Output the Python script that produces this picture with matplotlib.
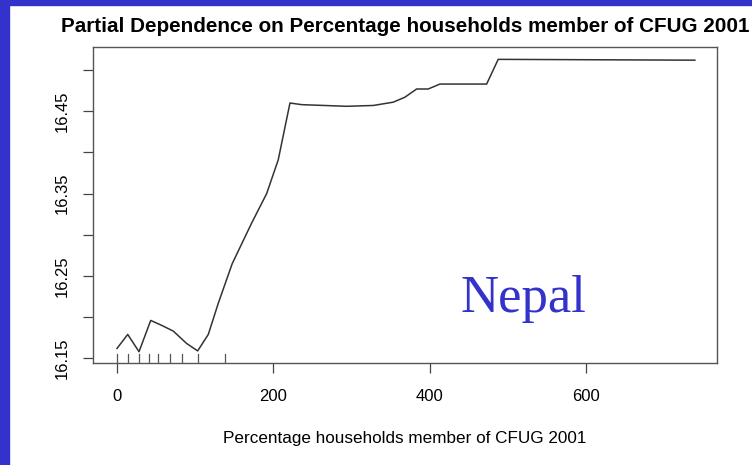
import numpy as np
import matplotlib.pyplot as plt
from matplotlib.patches import Rectangle

# partial dependence curve (x = % households in CFUG 2001, y = fitted value)
pct_households = [0, 13.7, 28.1, 43.1, 57.1, 72, 89, 103.1, 116.7, 129.5,
                  147.3, 172, 191.3, 206.1, 221.1, 236, 293.5, 327.5, 353.1,
                  368, 383, 397.8, 412.8, 472.5, 487.3, 738.7]
partial_dep = [16.162, 16.179, 16.158, 16.196, 16.190, 16.183, 16.168, 16.159,
               16.179, 16.217, 16.265, 16.314, 16.350, 16.391, 16.460, 16.458,
               16.456, 16.457, 16.461, 16.467, 16.477, 16.477, 16.483, 16.483,
               16.513, 16.512]
# deciles of the predictor, shown as a rug
rug_deciles = [0, 14, 27.5, 40.3, 53, 67.8, 83.5, 103.5, 138.5]

x_ticks = [0, 200, 400, 600]
y_ticks = [16.15, 16.20, 16.25, 16.30, 16.35, 16.40, 16.45, 16.50]
y_labels = ["16.15", "", "16.25", "", "16.35", "", "16.45", ""]

plt.rcParams["font.family"] = ["Liberation Sans", "DejaVu Sans"]
fig = plt.figure(figsize=(7.52, 4.65), dpi=100)

# blue slide frame
blue = "#3333cc"
fig.patches.append(Rectangle((0, 0), 9 / 752, 1, transform=fig.transFigure,
                             color=blue, zorder=-1))
fig.patches.append(Rectangle((0, 1 - 5 / 465), 1, 5 / 465,
                             transform=fig.transFigure, color=blue, zorder=-1))

ax = fig.add_axes([93 / 752, 1 - 363 / 465, 624 / 752, 316 / 465])
ax.plot(pct_households, partial_dep, color="#333333", lw=1.1)
for xr in rug_deciles:
    ax.plot([xr, xr], [0, 0.03], color="#555555", lw=0.9,
            transform=ax.get_xaxis_transform())

ax.set_xlim(-30.7, 767)
ax.set_ylim(16.1443, 16.528)
ax.set_xticks(x_ticks)
ax.set_yticks(y_ticks)
ax.set_yticklabels(y_labels, rotation=90, va="center")
ax.tick_params(direction="out", length=7.5, width=0.9, color="#444444",
               labelsize=12)
ax.tick_params(axis="x", pad=11)
ax.tick_params(axis="y", pad=9.5)
for s in ax.spines.values():
    s.set_color("#555555")
    s.set_linewidth(1.0)

ax.set_xlabel("Percentage households member of CFUG 2001", fontsize=12.3,
              labelpad=20)
fig.text(405 / 752, 1 - 32 / 465,
         "Partial Dependence on Percentage households member of CFUG 2001",
         ha="center", va="baseline", fontsize=14.9, fontweight="bold")

ax.text(460 / 752, 1 - 312 / 465, "Nepal", transform=fig.transFigure,
        family=["Liberation Serif"], fontsize=38, color=blue,
        ha="left", va="baseline")

fig.savefig("out.png", dpi=100)
